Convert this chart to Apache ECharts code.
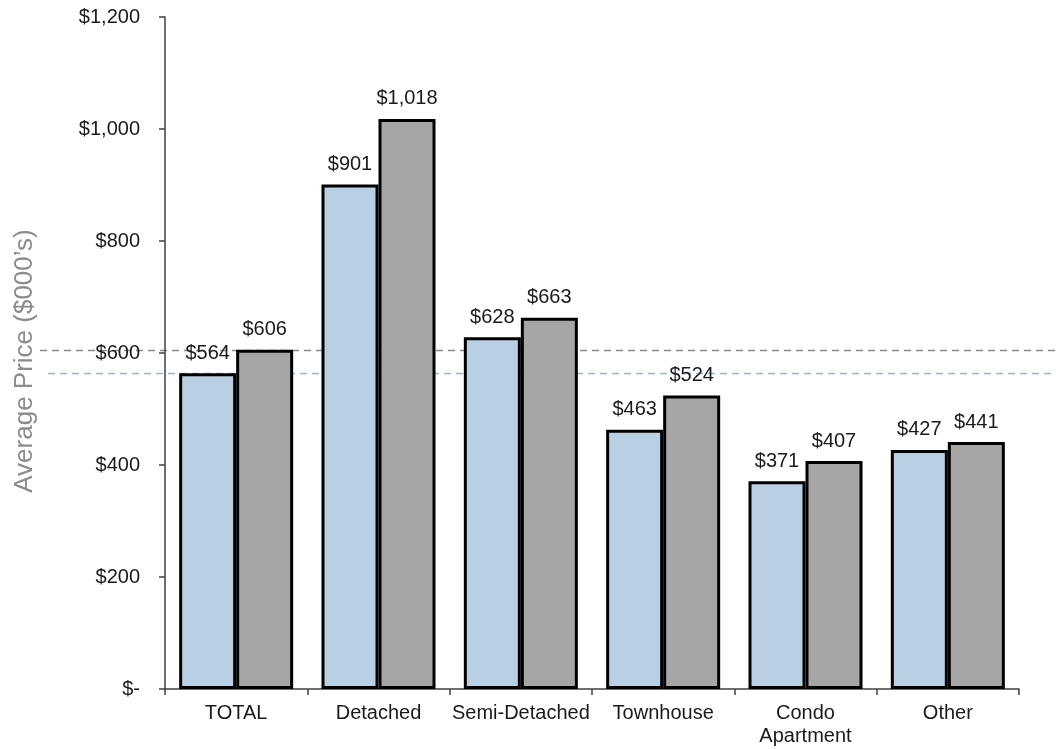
<!DOCTYPE html>
<html>
<head>
<meta charset="utf-8">
<script src="https://cdn.jsdelivr.net/npm/echarts@6/dist/echarts.min.js"></script>
<style>
  html, body { margin: 0; padding: 0; background: #fff; }
  #chart { width: 1056px; height: 749px; }
</style>
</head>
<body>
<div id="chart"></div>
<script>
// Average price by dwelling type, two periods ($000's)
const categories = ['TOTAL', 'Detached', 'Semi-Detached', 'Townhouse', 'Condo\nApartment', 'Other'];
const previousPrices = [564, 901, 628, 463, 371, 427];
const currentPrices = [606, 1018, 663, 524, 407, 441];
const yTicks = { min: 0, max: 1200, interval: 200 };

const FONT = '"Liberation Sans", Arial, sans-serif';

function money(v) {
  if (v === 0) return '$-';
  return '$' + v.toLocaleString('en-US');
}

const chart = echarts.init(document.getElementById('chart'), null, { renderer: 'canvas' });

const labelStyle = {
  show: true,
  position: 'top',
  distance: 10,
  fontFamily: FONT,
  fontSize: 20,
  color: '#1a1a1a',
  formatter: p => money(p.value)
};

chart.setOption({
  animation: false,
  backgroundColor: '#ffffff',
  grid: { left: 165, right: 37, top: 17, bottom: 60 },
  xAxis: {
    type: 'category',
    data: categories,
    axisLine: { lineStyle: { color: '#404040', width: 1.5 } },
    axisTick: { show: true, length: 6, lineStyle: { color: '#404040', width: 1.5 } },
    axisLabel: { interval: 0, fontFamily: FONT, fontSize: 20, color: '#1a1a1a', margin: 13, lineHeight: 23 }
  },
  yAxis: {
    type: 'value',
    min: yTicks.min,
    max: yTicks.max,
    interval: yTicks.interval,
    name: "Average Price ($000\u2019s)",
    nameLocation: 'middle',
    nameGap: 127,
    nameTextStyle: { fontFamily: FONT, fontSize: 26, color: '#8c8c8c', padding: [0, 16, 0, 0] },
    axisLine: { show: true, lineStyle: { color: '#404040', width: 1.5 } },
    axisTick: { show: true, length: 6, lineStyle: { color: '#404040', width: 1.5 } },
    splitLine: { show: false },
    axisLabel: { fontFamily: FONT, fontSize: 20, color: '#1a1a1a', margin: 25, formatter: money }
  },
  series: [
    {
      type: 'bar',
      data: previousPrices,
      barWidth: 57,
      barGap: '0%',
      itemStyle: { color: '#b9cfe3', borderColor: '#000', borderWidth: 3 },
      label: labelStyle
    },
    {
      type: 'bar',
      data: currentPrices,
      barWidth: 57,
      barGap: '0%',
      itemStyle: { color: '#a6a6a6', borderColor: '#000', borderWidth: 3 },
      label: labelStyle
    }
  ]
});

// Dashed reference lines at the TOTAL averages, spanning the full width
const refLines = [
  { value: currentPrices[0], color: '#8a8a8a', x0: 40 },
  { value: previousPrices[0], color: '#92b3d9', x0: 48 }
];
chart.setOption({
  graphic: refLines.map(r => {
    const y = Math.round(chart.convertToPixel({ yAxisIndex: 0 }, r.value)) + 0.5;
    return {
      type: 'line',
      silent: true,
      z: 0,
      shape: { x1: r.x0, y1: y, x2: 1056, y2: y },
      style: { stroke: r.color, lineWidth: 1.5, lineDash: [7, 5] }
    };
  })
});
</script>
</body>
</html>
